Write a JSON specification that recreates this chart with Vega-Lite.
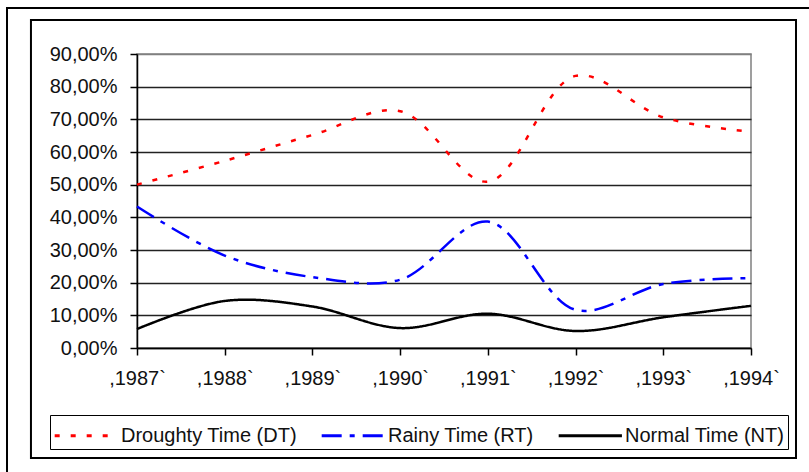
{
  "$schema": "https://vega.github.io/schema/vega-lite/v6.json",
  "width": 614,
  "height": 294,
  "autosize": {"type": "none"},
  "padding": {"left": 137, "top": 54, "right": 58, "bottom": 124},
  "background": "white",
  "config": {
    "font": "Liberation Sans",
    "view": {"stroke": "#808080", "strokeWidth": 1.5}
  },
  "resolve": {"axis": {"x": "independent", "y": "independent"}},
  "datasets": {
    "shares": [
      {"year": 1987, "series": "Droughty Time (DT)", "value": 0.500},
      {"year": 1988, "series": "Droughty Time (DT)", "value": 0.573},
      {"year": 1989, "series": "Droughty Time (DT)", "value": 0.652},
      {"year": 1990, "series": "Droughty Time (DT)", "value": 0.725},
      {"year": 1991, "series": "Droughty Time (DT)", "value": 0.509},
      {"year": 1992, "series": "Droughty Time (DT)", "value": 0.833},
      {"year": 1993, "series": "Droughty Time (DT)", "value": 0.706},
      {"year": 1994, "series": "Droughty Time (DT)", "value": 0.662},
      {"year": 1987, "series": "Rainy Time (RT)", "value": 0.433},
      {"year": 1988, "series": "Rainy Time (RT)", "value": 0.283},
      {"year": 1989, "series": "Rainy Time (RT)", "value": 0.217},
      {"year": 1990, "series": "Rainy Time (RT)", "value": 0.209},
      {"year": 1991, "series": "Rainy Time (RT)", "value": 0.387},
      {"year": 1992, "series": "Rainy Time (RT)", "value": 0.117},
      {"year": 1993, "series": "Rainy Time (RT)", "value": 0.196},
      {"year": 1994, "series": "Rainy Time (RT)", "value": 0.214},
      {"year": 1987, "series": "Normal Time (NT)", "value": 0.058},
      {"year": 1988, "series": "Normal Time (NT)", "value": 0.144},
      {"year": 1989, "series": "Normal Time (NT)", "value": 0.127},
      {"year": 1990, "series": "Normal Time (NT)", "value": 0.061},
      {"year": 1991, "series": "Normal Time (NT)", "value": 0.105},
      {"year": 1992, "series": "Normal Time (NT)", "value": 0.052},
      {"year": 1993, "series": "Normal Time (NT)", "value": 0.094},
      {"year": 1994, "series": "Normal Time (NT)", "value": 0.129}
    ]
  },
  "layer": [
    {
      "data": {"name": "shares"},
      "mark": {"type": "line", "interpolate": "catmull-rom", "strokeWidth": 2.5},
      "encoding": {
        "x": {
          "field": "year",
          "type": "quantitative",
          "scale": {"domain": [1987, 1994], "nice": false, "zero": false},
          "axis": {
            "title": null,
            "values": [1987, 1988, 1989, 1990, 1991, 1992, 1993, 1994],
            "labelExpr": "',' + datum.value + '`'",
            "grid": false,
            "domainColor": "#000",
            "domainWidth": 1.5,
            "tickColor": "#000",
            "tickWidth": 1.5,
            "tickSize": 7,
            "labelPadding": 13,
            "labelFontSize": 20,
            "labelColor": "#111",
            "labelFlush": false,
            "labelOverlap": false
          }
        },
        "y": {
          "field": "value",
          "type": "quantitative",
          "scale": {"domain": [0, 0.9], "nice": false},
          "axis": {
            "title": null,
            "values": [0, 0.1, 0.2, 0.3, 0.4, 0.5, 0.6, 0.7, 0.8, 0.9],
            "labelExpr": "replace(format(datum.value, '.2%'), '.', ',')",
            "labelOverlap": false,
            "labelFlush": false,
            "grid": true,
            "gridColor": {"condition": {"test": "datum.value >= 0.85", "value": "#808080"}, "value": "#222"},
            "gridWidth": 1.5,
            "domainColor": "#000",
            "domainWidth": 1.5,
            "tickColor": "#000",
            "tickWidth": 1.5,
            "tickSize": 7,
            "labelPadding": 13,
            "labelFontSize": 20,
            "labelColor": "#111"
          }
        },
        "color": {
          "field": "series",
          "type": "nominal",
          "scale": {
            "domain": ["Droughty Time (DT)", "Rainy Time (RT)", "Normal Time (NT)"],
            "range": ["#ff0000", "#0000ff", "#000000"]
          },
          "legend": {
            "title": null,
            "orient": "none",
            "legendX": -87,
            "legendY": 361,
            "direction": "horizontal",
            "strokeColor": "#000",
            "padding": 3,
            "symbolType": "M-1,0H3",
            "symbolSize": 1000,
            "symbolStrokeWidth": 3,
            "labelFontSize": 20,
            "labelColor": "#111",
            "labelOffset": 33,
            "labelLimit": 400,
            "columnPadding": 18
          }
        },
        "strokeDash": {
          "field": "series",
          "type": "nominal",
          "scale": {
            "domain": ["Droughty Time (DT)", "Rainy Time (RT)", "Normal Time (NT)"],
            "range": [[5, 11], [20, 8, 5, 8], [1, 0]]
          },
          "legend": {
            "title": null,
            "orient": "none",
            "legendX": -87,
            "legendY": 361,
            "direction": "horizontal",
            "strokeColor": "#000",
            "padding": 3,
            "symbolType": "M-1,0H3",
            "symbolSize": 1000,
            "symbolStrokeWidth": 3,
            "labelFontSize": 20,
            "labelColor": "#111",
            "labelOffset": 33,
            "labelLimit": 400,
            "columnPadding": 18
          }
        }
      }
    },
    {
      "data": {"values": [{}]},
      "mark": {"type": "rect", "filled": false, "stroke": "#000", "strokeWidth": 2},
      "encoding": {
        "x": {"datum": 1985.791, "type": "quantitative", "axis": null},
        "x2": {"datum": 1994.513},
        "y": {"datum": 1.004, "type": "quantitative", "axis": null},
        "y2": {"datum": -0.3367}
      }
    },
    {
      "data": {"values": [{}]},
      "mark": {"type": "rect", "filled": false, "stroke": "#000", "strokeWidth": 2},
      "encoding": {
        "x": {"datum": 1985.518, "type": "quantitative", "axis": null},
        "x2": {"datum": 1994.8},
        "y": {"datum": 1.0407, "type": "quantitative", "axis": null},
        "y2": {"datum": -0.45}
      }
    }
  ]
}
